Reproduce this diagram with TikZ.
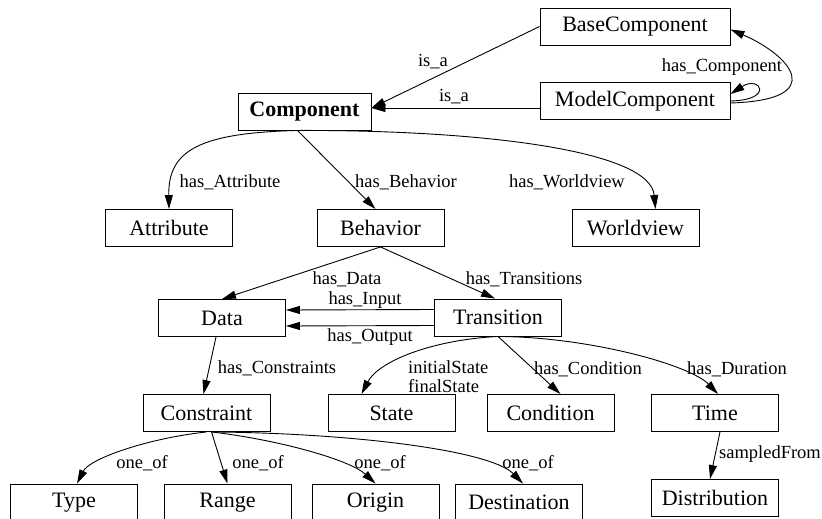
\documentclass[tikz,border=0pt]{standalone}
\usepackage{fontspec}
\setmainfont{Liberation Serif}
\usetikzlibrary{arrows.meta}

\tikzstyle{concept} = [rectangle, minimum width=127pt, minimum height=37pt, inner sep=0pt, draw=black, line width=0.9pt, font=\fontsize{22}{24}\selectfont]
\tikzstyle{wideconcept} = [concept, minimum width=190pt]
\tikzstyle{rel} = [inner sep=0pt, font=\fontsize{18.5}{19}\selectfont]
\tikzstyle{arrow} = [line width=0.9pt,->,>={Triangle[length=14pt,width=8pt]}]

\begin{document}
\begin{tikzpicture}[x=1pt, y=-1pt]
\useasboundingbox (0,0) rectangle (822,519);

\node (base) [wideconcept] at (635,26.5) {BaseComponent};
\node (model) [wideconcept] at (635,101) {ModelComponent};
\node (comp) [concept, minimum width=133pt] at (304.5,111.5) {\textbf{Component}};
\node (attr) [concept] at (169,228) {Attribute};
\node (beh) [concept] at (380.5,228) {Behavior};
\node (world) [concept] at (635.5,228) {Worldview};
\node (data) [concept] at (222,318) {Data};
\node (trans) [concept] at (498,317.5) {Transition};
\node (cons) [concept] at (206.5,413) {Constraint};
\node (state) [concept] at (391.5,413) {State};
\node (cond) [concept] at (550.5,413) {Condition};
\node (time) [concept] at (715,413) {Time};
\node (type) [concept] at (74,502.5) {Type};
\node (range) [concept] at (227.5,502.5) {Range};
\node (origin) [concept] at (375.5,502.5) {Origin};
\node (dest) [concept] at (519,502.5) {Destination};
\node (dist) [concept] at (715,498) {Distribution};

% edge labels
\node (isa1) [rel] at (433,62) {is\_a};
\node (isa2) [rel] at (454,97) {is\_a};
\node (hascomp) [rel] at (722,67) {has\_Component};
\node (hasattr) [rel] at (230,182) {has\_Attribute};
\node (hasbeh) [rel] at (406,182) {has\_Behavior};
\node (hasworld) [rel] at (567,182) {has\_Worldview};
\node (hasdata) [rel] at (347,279) {has\_Data};
\node (hastrans) [rel] at (524,279) {has\_Transitions};
\node (hasin) [rel] at (365,300) {has\_Input};
\node (hasout) [rel] at (370,337) {has\_Output};
\node (hascons) [rel] at (277,368) {has\_Constraints};
\node (states) [rel, anchor=west, align=left] at (408,377) {initialState\\finalState};
\node (hascond) [rel] at (588,369) {has\_Condition};
\node (hasdur) [rel] at (737,369) {has\_Duration};
\node (oneof1) [rel] at (142,463) {one\_of};
\node (oneof2) [rel] at (258,463) {one\_of};
\node (oneof3) [rel] at (380,463) {one\_of};
\node (oneof4) [rel] at (528,463) {one\_of};
\node (sampled) [rel] at (770,454) {sampledFrom};

\coordinate (compin) at ([yshift=3.5pt]comp.east);

\draw [arrow] (base.west) -- (compin);
\draw [arrow] (model.west |- compin) -- (compin);
\draw [arrow] ([yshift=-2pt]model.east) .. controls (830,100) and (790,55) .. ([yshift=-3pt]base.east);
\draw [arrow] (model.east) .. controls (775,100) and (760,75) .. ([yshift=7pt]model.east);

\draw [arrow] ([xshift=-7pt]comp.south) .. controls (200,133) and (168,150) .. (attr.north);
\draw [arrow] ([xshift=-7pt]comp.south) -- ([xshift=-5pt]beh.north);
\draw [arrow] ([xshift=-5pt]comp.south) .. controls (480,130) and (650,150) .. ([xshift=20pt]world.north);

\draw [arrow] (beh.south) -- (data.north);
\draw [arrow] (beh.south) -- ([xshift=-3pt]trans.north);
\draw [arrow] ([yshift=8pt]trans.west) -- ([yshift=8pt]data.east);
\draw [arrow] ([yshift=-8pt]trans.west) -- ([yshift=-8pt]data.east);

\draw [arrow] ([xshift=-6pt]data.south) -- ([xshift=-3pt]cons.north);
\draw [arrow] (trans.south) .. controls (430,340) and (378,362) .. ([xshift=-30pt]state.north);
\draw [arrow] (trans.south) -- ([xshift=10pt]cond.north);
\draw [arrow] (trans.south) .. controls (590,337) and (690,365) .. ([xshift=3pt]time.north);
\draw [arrow] ([xshift=5pt]time.south) -- ([xshift=-5pt]dist.north);

\draw [arrow] (cons.south) .. controls (150,438) and (90,458) .. ([xshift=3pt]type.north);
\draw [arrow] ([xshift=5pt]cons.south) -- (range.north);
\draw [arrow] ([xshift=5pt]cons.south) .. controls (280,440) and (350,460) .. (origin.north);
\draw [arrow] ([xshift=5pt]cons.south) .. controls (350,433) and (490,450) .. ([xshift=4pt]dest.north);

\end{tikzpicture}
\end{document}
